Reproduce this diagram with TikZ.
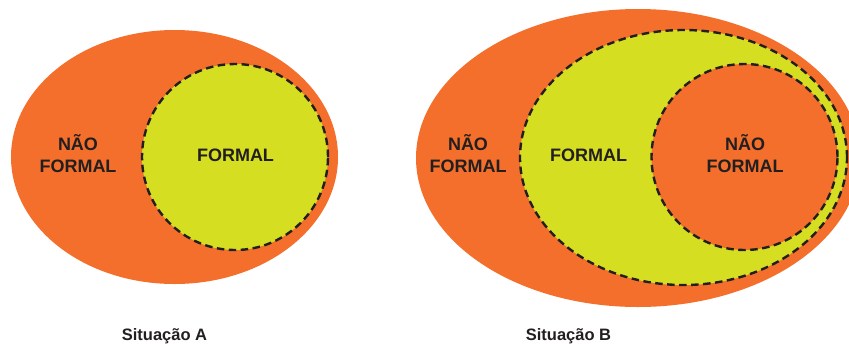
\documentclass[tikz,border=0pt]{standalone}
\usepackage{fontspec}
\setmainfont{Liberation Sans}
\definecolor{laranja}{HTML}{F36F2B}
\definecolor{amarelo}{HTML}{D5DE21}
\definecolor{tinta}{HTML}{231F20}
\begin{document}
\begin{tikzpicture}[x=1bp,y=-1bp,
  zona/.style={font=\fontsize{18bp}{22bp}\selectfont\bfseries, text=tinta, align=center, inner sep=0pt, anchor=base},
  legenda/.style={font=\fontsize{16.5bp}{18bp}\selectfont\bfseries, text=tinta, inner sep=0pt, anchor=base},
  limite/.style={draw=tinta, line width=2.4bp, dash pattern=on 7.5bp off 4.5bp}]
\useasboundingbox (0,0) rectangle (849,344);
\begin{scope}
  \clip (0,0) rectangle (849,344);
  % Situation A: formal education inside non-formal space
  \fill[laranja] (174.5,157) ellipse [x radius=163.5bp, y radius=127bp];
  \filldraw[fill=amarelo, limite] (235,157) circle [radius=93bp];
  % Situation B: non-formal inside formal inside non-formal
  \fill[laranja] (638,158) ellipse [x radius=222bp, y radius=149bp];
  \filldraw[fill=amarelo, limite] (683.5,157.5) ellipse [x radius=163.5bp, y radius=127.5bp];
  \filldraw[fill=laranja, limite] (744.5,157) circle [radius=93bp];
\end{scope}
% two-line labels: base anchor sits on the last line
\node[zona] (naoA) at (78,172) {NÃO\\FORMAL};
\node[zona] (formalA) at (235.5,161.5) {FORMAL};
\node[zona] (naoB) at (468,172) {NÃO\\FORMAL};
\node[zona] (formalB) at (588.5,161.5) {FORMAL};
\node[zona] (naoC) at (745,172) {NÃO\\FORMAL};
\node[legenda] (sitA) at (164.5,340) {Situação A};
\node[legenda] (sitB) at (568.5,340) {Situação B};
\end{tikzpicture}
\end{document}
